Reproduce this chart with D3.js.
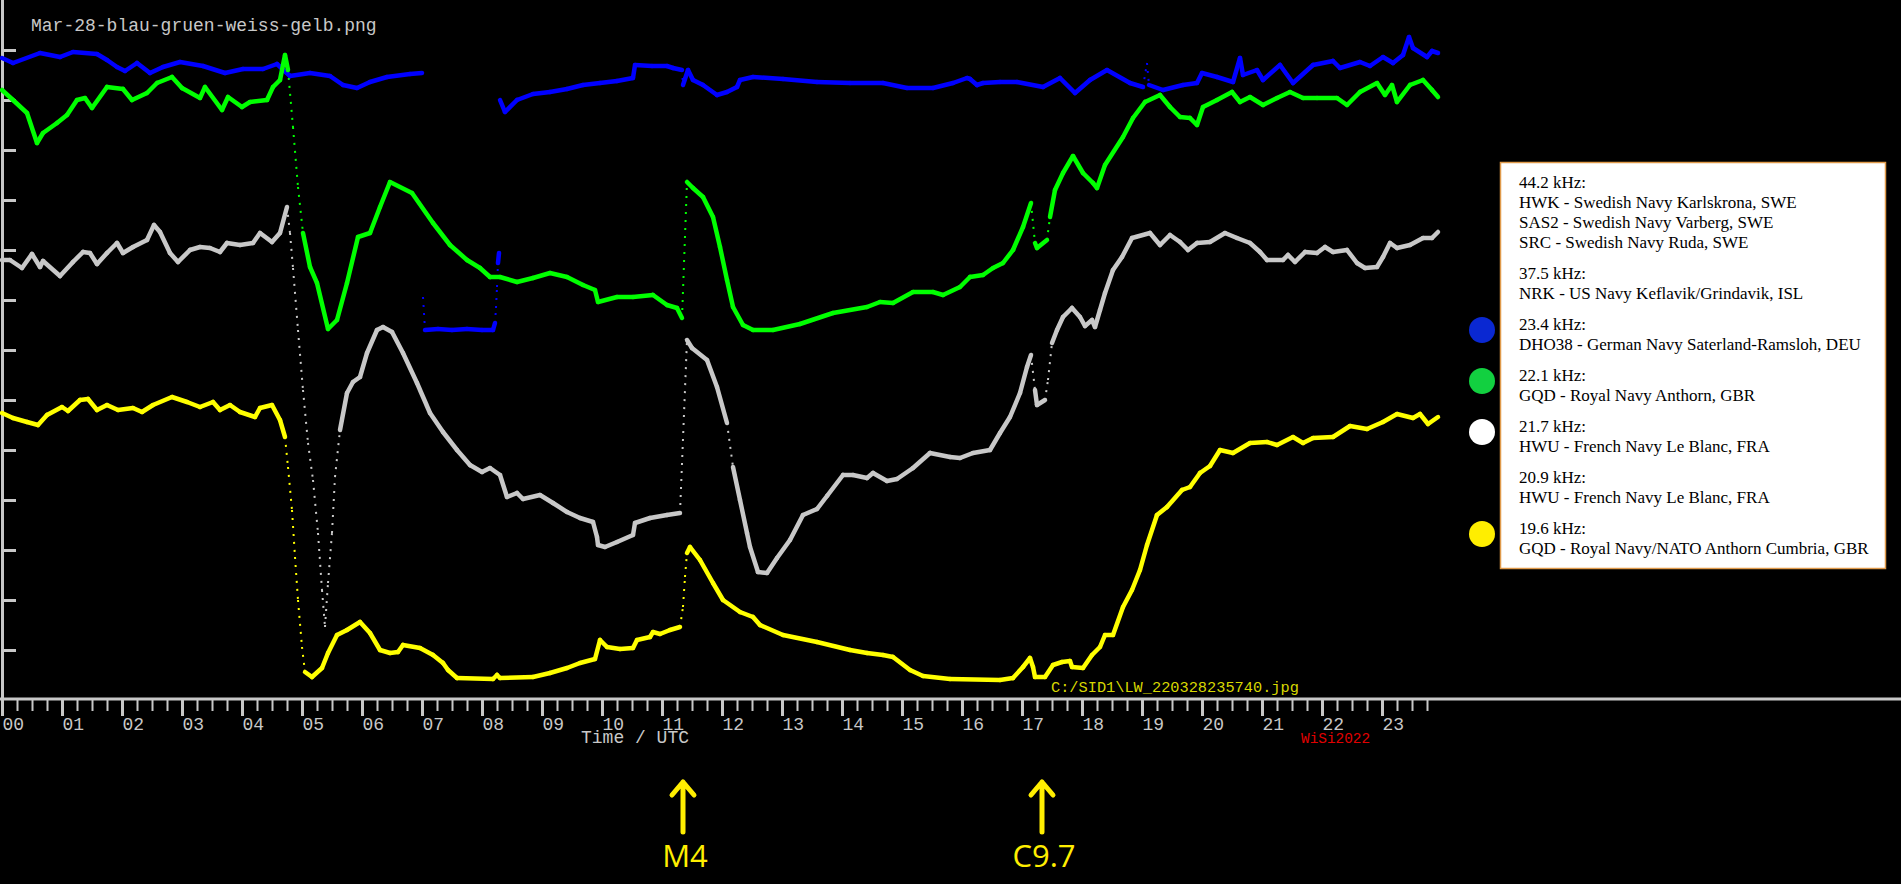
<!DOCTYPE html>
<html>
<head>
<meta charset="utf-8">
<script src="https://cdn.jsdelivr.net/npm/d3@7"></script>
<style>
  html, body { margin: 0; background: #000; overflow: hidden; }
  svg { display: block; }
</style>
</head>
<body>
<svg id="chart" width="1901" height="884"></svg>
<script>
// time in minutes UTC, level in receiver units (0..700)
const hourLabels = ["00","01","02","03","04","05","06","07","08","09","10","11",
                    "12","13","14","15","16","17","18","19","20","21","22","23"];
const levelTicks = [50,100,150,200,250,300,350,400,450,500,550,600,650];

const blue = [
  [0,642],[11,637],[38,647],[58,643],[71,648],[95,646],[105,640],[115,633],[123,629],[135,637],
  [148,627],[161,633],[178,638],[201,634],[223,627],[241,631],[261,631],[275,636],[288,624],[308,627],
  [328,624],[341,615],[355,612],[368,618],[385,623],[408,626],[420,627],
  [420.5,null],
  [421,403],[422,387],[423,370],[436,371],[450,370],[465,371],[480,370],[491,370],[493,377],[494,392],
  [495,413],[496,437],[497,447],
  [497.5,null],
  [498,600],[503,588],[515,600],[531,606],[548,608],[565,611],[581,615],[598,617],[615,619],[631,622],
  [633,635],[650,634],[665,634],[671,632],[680,630],[681,615],[686,630],[691,620],[701,615],[715,605],
  [725,608],[735,613],[738,620],[751,623],[781,621],[815,618],[848,617],[881,617],[905,612],[931,612],
  [951,617],[965,622],[968,621],[975,615],[981,617],[998,618],[1015,618],[1041,613],[1058,622],[1073,607],
  [1088,620],[1105,630],[1128,617],[1141,613],[1145,637],[1147,615],[1161,610],[1181,615],[1195,617],[1200,627],
  [1215,623],[1231,618],[1238,642],[1241,625],[1255,630],[1261,620],[1278,635],[1291,617],[1311,635],[1331,639],
  [1338,632],[1358,638],[1368,634],[1381,643],[1391,637],[1401,645],[1407,663],[1411,652],[1425,643],[1430,649],
  [1436,647]
];

const green = [
  [0,610],[11,600],[25,587],[35,557],[41,567],[55,577],[65,585],[75,600],[83,602],[90,592],
  [105,613],[121,611],[130,600],[145,607],[155,617],[170,623],[180,612],[198,602],[203,613],[220,590],
  [226,603],[240,593],[248,598],[265,600],[271,613],[278,620],[283,645],[286,630],[291,573],[296,513],
  [301,467],[308,433],[315,417],[326,371],[335,380],[345,417],[356,463],[368,467],[378,493],[388,518],
  [410,507],[431,477],[448,455],[465,440],[478,432],[488,423],[498,423],[515,418],[531,422],[548,427],
  [565,423],[581,415],[593,410],[596,398],[615,403],[631,403],[651,405],[665,395],[675,392],[680,382],
  [685,518],[691,512],[701,503],[711,483],[718,453],[725,420],[731,393],[741,375],[751,370],[771,370],
  [798,376],[831,387],[865,393],[878,398],[891,397],[911,408],[931,408],[941,405],[958,413],[968,423],
  [981,425],[991,432],[1001,437],[1011,450],[1021,473],[1029,497],[1033,457],[1035,452],[1045,460],[1048,483],
  [1053,510],[1061,527],[1071,544],[1081,527],[1091,517],[1095,512],[1103,535],[1121,563],[1131,582],[1143,598],
  [1158,605],[1168,593],[1178,583],[1188,582],[1195,575],[1201,593],[1215,600],[1230,608],[1238,598],[1248,603],
  [1261,595],[1275,602],[1288,608],[1301,602],[1315,602],[1335,602],[1345,595],[1358,608],[1375,617],[1383,605],
  [1390,615],[1395,598],[1408,615],[1421,620],[1430,610],[1436,603]
];

const white = [
  [0,440],[8,440],[20,432],[30,446],[38,433],[41,439],[58,424],[71,438],[81,448],[88,447],
  [95,436],[105,447],[115,457],[121,447],[131,453],[145,460],[152,475],[158,468],[168,447],[176,438],
  [188,450],[198,453],[208,452],[218,448],[225,457],[238,455],[251,457],[258,467],[270,458],[278,467],
  [285,493],[288,467],[291,432],[296,370],[301,310],[306,257],[311,220],[316,167],[320,110],[323,73],
  [326,117],[330,167],[333,223],[338,270],[345,307],[351,318],[358,323],[365,347],[375,370],[381,373],
  [390,368],[401,347],[415,317],[428,287],[441,268],[455,250],[468,235],[480,228],[488,232],[498,225],
  [505,203],[515,207],[521,201],[538,205],[551,197],[565,188],[578,182],[591,178],[595,163],[596,155],
  [603,153],[615,158],[631,165],[633,177],[648,182],[665,185],[678,187],[685,360],[690,352],[705,340],
  [715,313],[725,277],[731,233],[738,200],[745,167],[748,153],[756,128],[765,127],[775,142],[788,160],
  [801,185],[815,191],[825,204],[841,225],[851,225],[865,222],[871,227],[885,219],[895,221],[911,232],
  [928,247],[948,243],[958,242],[971,247],[988,250],[998,267],[1008,283],[1018,307],[1025,333],[1029,345],
  [1033,310],[1035,295],[1043,300],[1046,320],[1050,357],[1055,370],[1061,383],[1070,392],[1078,383],[1083,374],
  [1090,380],[1093,373],[1098,390],[1103,407],[1111,430],[1120,443],[1130,462],[1148,467],[1158,455],[1168,465],
  [1178,458],[1186,450],[1195,457],[1208,458],[1223,467],[1235,462],[1248,457],[1258,448],[1265,440],[1281,440],
  [1286,445],[1293,438],[1303,448],[1315,447],[1323,453],[1331,448],[1345,450],[1355,437],[1363,432],[1375,433],
  [1381,443],[1388,457],[1395,452],[1408,455],[1421,462],[1430,462],[1436,468]
];

const yellow = [
  [0,287],[11,282],[25,278],[36,275],[45,285],[60,293],[66,289],[78,300],[86,301],[95,290],
  [105,295],[116,290],[131,292],[140,288],[151,295],[170,303],[185,298],[198,293],[211,298],[218,290],
  [228,295],[238,288],[253,283],[258,292],[270,295],[278,280],[283,263],[286,233],[290,190],[293,143],
  [296,100],[300,53],[303,28],[310,23],[320,32],[326,47],[335,65],[345,70],[358,78],[368,67],
  [378,50],[388,47],[396,48],[401,55],[418,52],[431,45],[441,37],[446,30],[455,22],[491,21],
  [495,25],[498,22],[531,23],[548,27],[565,32],[578,37],[593,41],[598,60],[605,53],[618,51],
  [631,52],[635,60],[648,63],[651,68],[658,66],[668,70],[678,73],[681,93],[683,123],[685,147],
  [688,153],[698,140],[711,117],[721,100],[738,88],[751,83],[758,75],[781,65],[815,58],[848,50],
  [865,47],[881,45],[891,43],[908,30],[921,24],[948,21],[998,20],[1011,22],[1021,33],[1028,42],
  [1031,33],[1033,23],[1043,23],[1051,35],[1060,38],[1068,39],[1070,33],[1081,32],[1090,45],[1098,53],
  [1103,65],[1111,65],[1121,93],[1130,110],[1138,130],[1145,155],[1155,185],[1165,193],[1180,210],[1188,213],
  [1198,227],[1208,234],[1218,250],[1231,247],[1248,257],[1265,258],[1275,255],[1291,263],[1301,257],[1311,262],
  [1331,263],[1348,274],[1365,271],[1381,278],[1395,286],[1411,282],[1418,286],[1426,276],[1436,283]
];

const legendGroups = [
  { head: "44.2 kHz:", lines: ["HWK - Swedish Navy Karlskrona, SWE", "SAS2 - Swedish Navy Varberg, SWE", "SRC - Swedish Navy Ruda, SWE"] },
  { head: "37.5 kHz:", lines: ["NRK - US Navy Keflavik/Grindavik, ISL"] },
  { head: "23.4 kHz:", lines: ["DHO38 - German Navy Saterland-Ramsloh, DEU"], dot: "#0a28d2" },
  { head: "22.1 kHz:", lines: ["GQD - Royal Navy Anthorn, GBR"], dot: "#12d040" },
  { head: "21.7 kHz:", lines: ["HWU - French Navy Le Blanc, FRA"], dot: "#ffffff" },
  { head: "20.9 kHz:", lines: ["HWU - French Navy Le Blanc, FRA"] },
  { head: "19.6 kHz:", lines: ["GQD - Royal Navy/NATO Anthorn Cumbria, GBR"], dot: "#ffee00" }
];

const flares = [
  { minute: 681, label: "M4" },
  { minute: 1040, label: "C9.7" }
];

const width = 1901, height = 884;
const axisGray = "#c8c8c8";
const mono = "'Liberation Mono', 'DejaVu Sans Mono', monospace";

const svg = d3.select("#chart");
svg.append("rect").attr("width", width).attr("height", height).attr("fill", "#000");

const x = d3.scaleLinear().domain([0, 1440]).range([2, 1442]);
const y = d3.scaleLinear().domain([0, 700]).range([700, 0]);

// title
svg.append("text")
    .attr("x", 31).attr("y", 31)
    .attr("font-family", mono).attr("font-size", 18)
    .attr("fill", axisGray)
    .text("Mar-28-blau-gruen-weiss-gelb.png");

// left axis
svg.append("line")
    .attr("x1", 2.5).attr("x2", 2.5).attr("y1", 0).attr("y2", 700)
    .attr("stroke", axisGray).attr("stroke-width", 3);

const yAxis = svg.append("g")
    .attr("transform", "translate(2,0)")
    .call(d3.axisRight(y).tickValues(levelTicks).tickSize(14).tickFormat(""));
yAxis.select(".domain").remove();
yAxis.selectAll(".tick line").attr("stroke", axisGray).attr("stroke-width", 3);

// bottom axis: minor every 15 min, major every hour
const minorTicks = d3.range(0, 1440, 15).filter(m => m % 60 !== 0);
const majorTicks = d3.range(0, 1440, 60);

svg.append("line")
    .attr("x1", 0).attr("x2", width).attr("y1", 699).attr("y2", 699)
    .attr("stroke", axisGray).attr("stroke-width", 3);

const xMinor = svg.append("g")
    .attr("transform", "translate(0,699)")
    .call(d3.axisBottom(x).tickValues(minorTicks).tickSize(12).tickFormat(""));
xMinor.select(".domain").remove();
xMinor.selectAll(".tick line").attr("stroke", axisGray).attr("stroke-width", 2);

const xMajor = svg.append("g")
    .attr("transform", "translate(0,699)")
    .call(d3.axisBottom(x).tickValues(majorTicks).tickSize(17).tickPadding(1)
        .tickFormat((d, i) => hourLabels[i]));
xMajor.select(".domain").remove();
xMajor.selectAll(".tick line").attr("stroke", axisGray).attr("stroke-width", 3);
xMajor.selectAll(".tick text")
    .attr("text-anchor", "start")
    .attr("font-family", mono).attr("font-size", 18)
    .attr("fill", axisGray);

// axis title sits over the 10/11 labels, as in the original plot
svg.append("text")
    .attr("x", 581).attr("y", 743)
    .attr("font-family", mono).attr("font-size", 18)
    .attr("fill", axisGray)
    .text("Time / UTC");

svg.append("text")
    .attr("x", 1301).attr("y", 743)
    .attr("font-family", mono).attr("font-size", 14.4)
    .attr("fill", "#e00000")
    .text("WiSi2022");

// traces: solid where the signal moves slowly, sparse dots where it jumps
const traces = svg.append("g");

function drawTrace(data, color) {
    const g = traces.append("g");
    for (let i = 1; i < data.length; i++) {
        const a = data[i - 1], b = data[i];
        if (a[1] == null || b[1] == null) continue;
        const x1 = x(a[0]), y1 = y(a[1]), x2 = x(b[0]), y2 = y(b[1]);
        const dy = Math.abs(y2 - y1), dx = Math.abs(x2 - x1);
        const steep = dy > 15 && dy > 6 * dx;
        g.append("line")
            .attr("x1", x1).attr("y1", y1).attr("x2", x2).attr("y2", y2)
            .attr("stroke", color)
            .attr("stroke-width", steep ? 2 : 4.5)
            .attr("stroke-linecap", steep ? "butt" : "round")
            .attr("stroke-dasharray", steep ? "2 6" : null);
    }
}

drawTrace(blue, "#0000ff");
drawTrace(green, "#00ff00");
drawTrace(white, "#c8c8c8");
drawTrace(yellow, "#ffff00");

svg.append("text")
    .attr("x", 1051).attr("y", 692)
    .attr("font-family", mono).attr("font-size", 15.3)
    .attr("fill", "#d8d800")
    .text("C:/SID1\\LW_220328235740.jpg");

// legend
svg.append("rect")
    .attr("x", 1500.5).attr("y", 162.5).attr("width", 385).attr("height", 406)
    .attr("fill", "#ffffff").attr("stroke", "#e09a4a").attr("stroke-width", 1.5);

const legend = svg.append("g")
    .attr("font-family", "'Liberation Serif', 'Times New Roman', serif")
    .attr("font-size", 17)
    .attr("fill", "#000");

let baseY = 188;
legendGroups.forEach(grp => {
    if (grp.dot) {
        svg.append("circle")
            .attr("cx", 1482).attr("cy", baseY)
            .attr("r", 13)
            .attr("fill", grp.dot);
    }
    legend.append("text").attr("x", 1519).attr("y", baseY).text(grp.head);
    grp.lines.forEach((line, i) => {
        legend.append("text").attr("x", 1519).attr("y", baseY + 20 * (i + 1)).text(line);
    });
    baseY += 20 * grp.lines.length + 31;
});

// flare markers
const flareG = svg.append("g");
flares.forEach(f => {
    const fx = x(f.minute);
    flareG.append("path")
        .attr("d", `M${fx},832 V782 M${fx - 11},795 L${fx},782 L${fx + 11},795`)
        .attr("fill", "none")
        .attr("stroke", "#ffee00")
        .attr("stroke-width", 5)
        .attr("stroke-linecap", "round")
        .attr("stroke-linejoin", "round");
    flareG.append("text")
        .attr("x", fx + 2).attr("y", 867)
        .attr("text-anchor", "middle")
        .attr("font-family", "'Open Sans', 'Noto Sans', sans-serif")
        .attr("font-size", 31)
        .attr("fill", "#ffee00")
        .text(f.label);
});
</script>
</body>
</html>
